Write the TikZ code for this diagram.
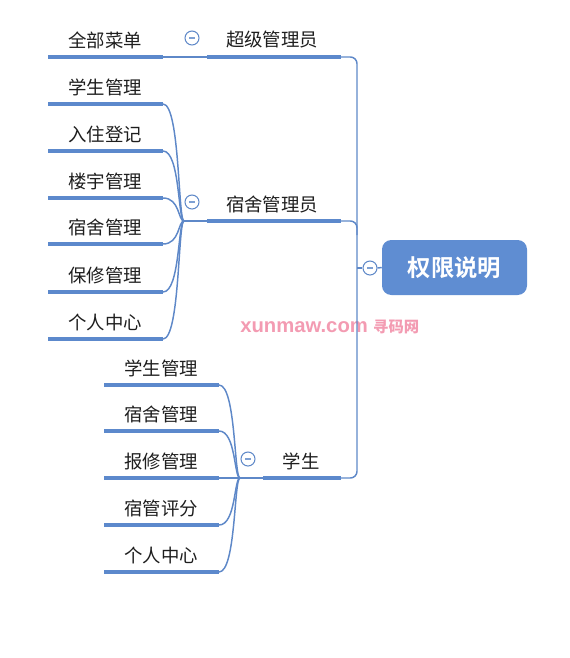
\documentclass[tikz,border=0pt]{standalone}
\usepackage{fontspec}
\newfontfamily\cjk{Noto Sans CJK SC}
\newfontfamily\cjkb{Noto Sans CJK SC Bold}
\newfontfamily\wm{Liberation Sans}
\definecolor{lnblue}{HTML}{5E88C8}
\definecolor{ulblue}{HTML}{5C89CC}
\definecolor{rootblue}{HTML}{5F8DD2}
\definecolor{txt}{HTML}{1E1E1E}
\definecolor{wmpink}{HTML}{F39BB2}
\begin{document}
\begin{tikzpicture}[x=0.75pt,y=-0.75pt,
  lbl/.style={font=\cjk\fontsize{13.8}{16}\selectfont, text=txt, inner sep=0pt, anchor=center},
  uline/.style={draw=ulblue, line width=3pt},
  conn/.style={draw=lnblue, line width=1.1pt},
  fold/.style={circle, draw=lnblue, fill=white, line width=0.8pt, minimum size=10.5pt, inner sep=0pt,
    path picture={\draw[lnblue!80, line width=0.8pt] ([xshift=-2.2pt]path picture bounding box.center) -- ([xshift=2.2pt]path picture bounding box.center);}},
  rootbox/.style={fill=rootblue, rounded corners=7pt, minimum width=108.75pt, minimum height=41.25pt, inner sep=0pt,
    font=\cjkb\fontsize{17.5}{20}\selectfont, text=white}
]
\useasboundingbox (0,0) rectangle (570,658);

% watermark
\node[inner sep=0pt, text=wmpink, anchor=west] (wm) at (240,327) {\wm\bfseries\fontsize{15.2}{17}\selectfont xunmaw.com\hspace{4pt}\cjkb\fontsize{11.5}{13}\selectfont 寻码网};

% root
\node[rootbox] (root) at (454.5,267.5) {权限说明};
\node[fold] (froot) at (370,268) {};

% trunk
\coordinate (tTop) at (357,57);
\coordinate (tMid) at (357,221);
\coordinate (tBot) at (357,478);
\coordinate (tRoot) at (357,268);
\draw[conn, rounded corners=5pt] (341,57) -- (tTop) -- (tBot) -- (341,478);
\draw[conn, rounded corners=5pt] (341,221) -- (tMid) -- (357,235);
\draw[conn] (tRoot) -- (froot.west);
\draw[conn] (froot.east) -- (root.west);

% level 1
\node[lbl] (sa) at (272,40) {超级管理员};
\node[lbl] (dm) at (272,204) {宿舍管理员};
\node[lbl] (st) at (301,461) {学生};
\coordinate (saL) at (207,57); \coordinate (saR) at (341,57);
\coordinate (dmL) at (207,221); \coordinate (dmR) at (341,221);
\coordinate (stL) at (263,478); \coordinate (stR) at (341,478);
\draw[uline] (saL) -- (saR);
\draw[uline] (dmL) -- (dmR);
\draw[uline] (stL) -- (stR);
\node[fold] (fsa) at (192,38) {};
\node[fold] (fdm) at (192,202) {};
\node[fold] (fst) at (248,459) {};

% super admin child
\node[lbl] (c0) at (105,40) {全部菜单};
\coordinate (c0L) at (48,57); \coordinate (c0R) at (163,57);
\draw[uline] (c0L) -- (c0R);
\draw[conn] (c0R) -- (saL);

% dorm admin children
\coordinate (dj) at (184,221);
\draw[conn] (dj) -- (dmL);
\foreach \n/\t/\y in {a1/学生管理/104, a2/入住登记/151, a3/楼宇管理/198, a4/宿舍管理/244, a5/保修管理/292, a6/个人中心/339}{
  \node[lbl] (\n) at (105,\y-17) {\t};
  \coordinate (\n L) at (48,\y);
  \coordinate (\n R) at (163,\y);
  \draw[uline] (\n L) -- (\n R);
  \draw[conn] (\n R) .. controls (180,\y) and (178,221) .. (dj);
}

% student children
\coordinate (sj) at (240,478);
\draw[conn] (sj) -- (stL);
\foreach \n/\t/\y in {b1/学生管理/385, b2/宿舍管理/431, b3/报修管理/478, b4/宿管评分/525, b5/个人中心/572}{
  \node[lbl] (\n) at (161,\y-17) {\t};
  \coordinate (\n L) at (104,\y);
  \coordinate (\n R) at (219,\y);
  \draw[uline] (\n L) -- (\n R);
  \draw[conn] (\n R) .. controls (236,\y) and (234,478) .. (sj);
}
\end{tikzpicture}
\end{document}
